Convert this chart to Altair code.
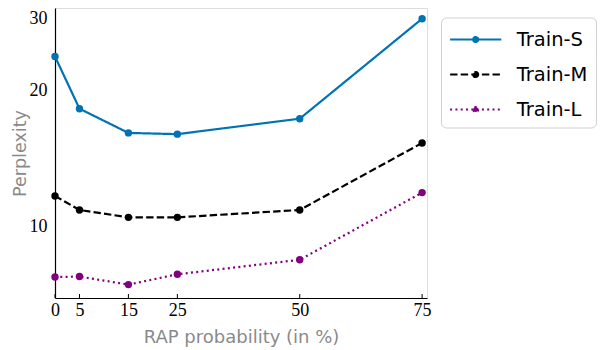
import altair as alt
import pandas as pd

x_vals = [0, 5, 15, 25, 50, 75]
series_names = ["Train-S", "Train-M", "Train-L"]
train_s = [23.7, 18.2, 16.1, 16.0, 17.3, 28.7]
train_m = [11.7, 10.9, 10.5, 10.5, 10.9, 15.3]
train_l = [7.76, 7.78, 7.47, 7.87, 8.47, 11.9]
x_ticks = [0, 5, 15, 25, 50, 75]
y_ticks = [10, 20, 30]

colors = ["#0173b2", "#000000", "#800080"]
dashes = [[1, 0], [7.4, 3.2], [2, 3.3]]

rows = []
for name, vals in zip(series_names, [train_s, train_m, train_l]):
    for x, v in zip(x_vals, vals):
        rows.append({"rap": x, "ppl": v, "series": name})
df = pd.DataFrame(rows)
tick_df = pd.DataFrame({"t": x_ticks})

serif = "Liberation Serif"
sans = "DejaVu Sans"

W, H = 372, 290
xscale = alt.Scale(domain=[0, 76], nice=False, zero=False)
yscale = alt.Scale(type="log", domain=[6.98, 30.3], nice=False, zero=False)

color = alt.Color(
    "series:N",
    scale=alt.Scale(domain=series_names, range=colors),
    legend=alt.Legend(
        title=None,
        orient="none",
        legendX=386,
        legendY=9.5,
        symbolType="M-2,0H2M0.2,0A0.2,0.2 0 1,1 -0.2,0A0.2,0.2 0 1,1 0.2,0Z",
        symbolSize=655,
        symbolOffset=12.7,
        symbolStrokeWidth=2,
        symbolOpacity=1,
        labelFont=sans,
        labelFontSize=19.5,
        labelColor="black",
        labelOffset=27,
        rowPadding=11,
        padding=8,
        strokeColor="#d0d0d0",
        cornerRadius=5,
        fillColor="white",
    ),
)
dash = alt.StrokeDash(
    "series:N",
    scale=alt.Scale(domain=series_names, range=dashes),
    legend=None,
)

x_enc = alt.X(
    "rap:Q",
    scale=xscale,
    axis=alt.Axis(
        values=x_ticks,
        ticks=False,
        grid=False,
        labelFlush=False,
        title="RAP probability (in %)",
        labelFont=serif,
        labelFontSize=18,
        labelColor="black",
        labelPadding=3,
        titleFont=sans,
        titleFontSize=18,
        titleFontWeight="normal",
        titleColor="#8a8a8a",
        titlePadding=9,
        domainColor="black",
        domainWidth=1.2,
    ),
)
y_enc = alt.Y(
    "ppl:Q",
    scale=yscale,
    axis=alt.Axis(
        values=y_ticks,
        ticks=False,
        grid=False,
        title="Perplexity",
        labelFont=serif,
        labelFontSize=18,
        labelColor="black",
        labelPadding=8,
        labelFlush=4,
        titleFont=sans,
        titleFontSize=17.5,
        titleFontWeight="normal",
        titleColor="#8a8a8a",
        titlePadding=0,
        domainColor="black",
        domainWidth=1.2,
    ),
)

lines = alt.Chart(df).mark_line(strokeWidth=2.2).encode(
    x=x_enc, y=y_enc, color=color, strokeDash=dash, order="rap:Q"
)
points = alt.Chart(df).mark_point(filled=True, size=55, opacity=1).encode(
    x="rap:Q", y="ppl:Q", color=color
)
ticks = alt.Chart(tick_df).mark_rule(color="black", strokeWidth=1).encode(
    x=alt.X("t:Q", scale=xscale), y=alt.value(H), y2=alt.value(H - 4)
)

chart = (
    alt.layer(lines, points, ticks)
    .properties(
        width=W,
        height=H,
        autosize=alt.AutoSizeParams(type="none"),
        padding={"left": 47, "top": 0, "right": 171, "bottom": 52},
    )
    .configure_view(stroke=None)
    .configure(background="white")
)

chart.save("out.html", embed_options={"renderer": "svg", "actions": False})
